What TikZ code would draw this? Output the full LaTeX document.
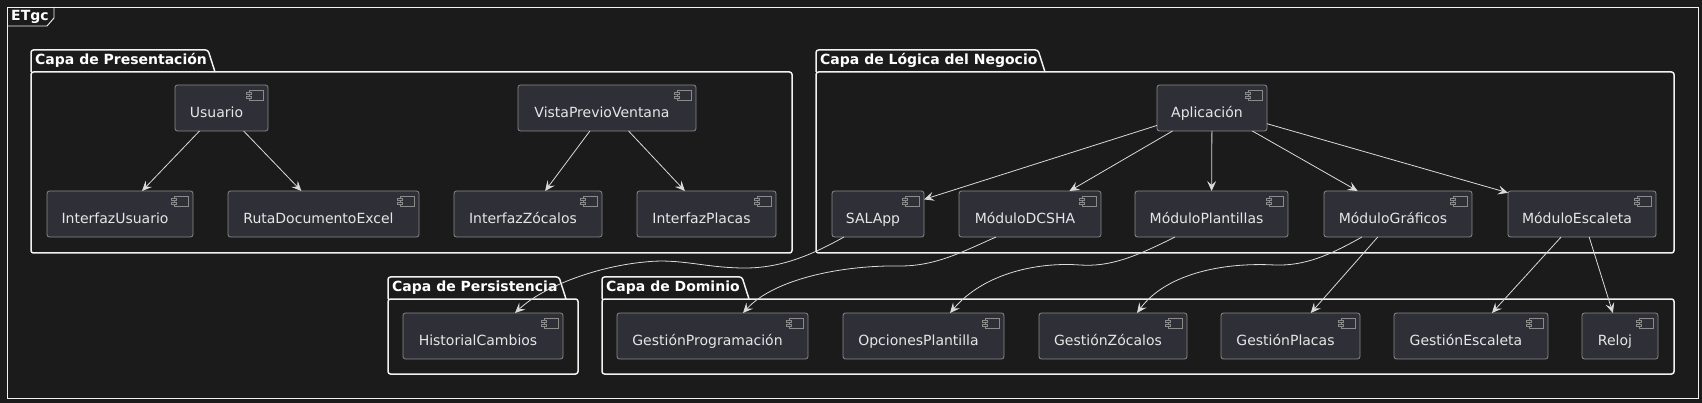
\documentclass[tikz,border=0pt]{standalone}
\usepackage{fontspec}
\setmainfont{DejaVu Sans}
\usetikzlibrary{arrows.meta,calc}
\definecolor{bg}{HTML}{1B1B1B}
\definecolor{compfill}{HTML}{2F2F38}
\definecolor{compline}{HTML}{8A8A8A}
\definecolor{txt}{HTML}{E6E6E6}
\definecolor{lines}{HTML}{F2F2F2}
\definecolor{arrc}{HTML}{DADADA}
\tikzset{
  comp/.style={draw=compline, fill=compfill, line width=0.8pt, rounded corners=2.5pt, inner sep=0pt, outer sep=0pt, anchor=north west},
  ctext/.style={text=txt, font=\fontsize{14}{16}\selectfont, inner sep=0pt, anchor=base},
  pkgline/.style={draw=lines, line width=1.5pt, rounded corners=2.5pt},
  frameline/.style={draw=lines, line width=0.9pt},
  ptitle/.style={text=white, font=\bfseries\fontsize{14}{16}\selectfont, inner sep=0pt, anchor=base west},
  arr/.style={draw=arrc, line width=0.8pt, -{Stealth[length=10pt,width=9pt,inset=4pt]}},
  icon/.style={draw=compline, fill=compfill, line width=0.7pt},
}
\newcommand\mycomp[5]{%
  \node[comp, minimum width={(#3)-(#2)}, minimum height=46pt] (#1) at (#2,#4) {};
  \draw[icon] ($(#1.north east)+(-19pt,-5pt)$) rectangle ++(14pt,-10pt);
  \draw[icon] ($(#1.north east)+(-22pt,-7.5pt)$) rectangle ++(5pt,-2pt);
  \draw[icon] ($(#1.north east)+(-22pt,-11.5pt)$) rectangle ++(5pt,-2pt);
  \node[ctext] (#1-t) at ($(#1.north)+(-5pt,-32.5pt)$) {#5};
}
\newcommand\mypkg[8]{% name, left, right, tabtop, bodytop, bottom, tabright, title
  \draw[pkgline] (#2,#5) -- (#2,#4) -- (#7,#4) -- ({#7+7},#5);
  \draw[pkgline] (#2,#5) rectangle (#3,#6);
  \node[ptitle] (#1) at ({#2+4},{#4+14.5}) {#8};
}
\begin{document}
\begin{tikzpicture}[x=1pt,y=-1pt]
\fill[bg] (0,0) rectangle (1702,403);
\useasboundingbox (0,0) rectangle (1702,403);
% outer frame
\draw[frameline] (7,7) rectangle (1698,398);
\draw[frameline] (7,26) -- (47,26) -- (54,18) -- (54,7);
\node[ptitle] (etgc) at (11,21) {ETgc};
% packages
\mypkg{pres}{31}{792}{50}{72}{253}{208}{Capa de Presentación}
\mypkg{logica}{816}{1674}{50}{72}{253}{1038}{Capa de Lógica del Negocio}
\mypkg{pers}{388}{578}{277}{299}{374}{559}{Capa de Persistencia}
\mypkg{dom}{602}{1674}{277}{299}{374}{742}{Capa de Dominio}
% components row 1
\mycomp{u}{175}{268}{85}{Usuario}
\mycomp{vp}{518}{696}{85}{VistaPrevioVentana}
\mycomp{app}{1157}{1267}{85}{Aplicación}
% row 2
\mycomp{iu}{47}{193}{191}{InterfazUsuario}
\mycomp{rde}{228}{419}{191}{RutaDocumentoExcel}
\mycomp{iz}{454}{602}{191}{InterfazZócalos}
\mycomp{ip}{637}{776}{191}{InterfazPlacas}
\mycomp{sal}{832}{924}{191}{SALApp}
\mycomp{dcsha}{959}{1101}{191}{MóduloDCSHA}
\mycomp{mpl}{1135}{1288}{191}{MóduloPlantillas}
\mycomp{mgr}{1324}{1472}{191}{MóduloGráficos}
\mycomp{mesc}{1508}{1656}{191}{MóduloEscaleta}
% row 3
\mycomp{hc}{403}{563}{313}{HistorialCambios}
\mycomp{gp}{617}{808}{313}{GestiónProgramación}
\mycomp{op}{843}{1004}{313}{OpcionesPlantilla}
\mycomp{gz}{1039}{1187}{313}{GestiónZócalos}
\mycomp{gpl}{1221}{1360}{313}{GestiónPlacas}
\mycomp{ge}{1394}{1548}{313}{GestiónEscaleta}
\mycomp{rel}{1582}{1658}{313}{Reloj}
% straight connectors
\draw[arr] (u) -- (iu);
\draw[arr] (u) -- (rde);
\draw[arr] (vp) -- (iz);
\draw[arr] (vp) -- (ip);
\draw[arr] (app) -- (sal);
\draw[arr] (app) -- (dcsha);
\draw[arr] (app) -- (mpl);
\draw[arr] (app) -- (mgr);
\draw[arr] (app) -- (mesc);
\draw[arr] (mgr) -- (gpl);
\draw[arr] (mesc) -- (ge);
\draw[arr] (mesc) -- (rel);
% curved connectors
\draw[arr] ([xshift=-34pt]sal.south) .. controls (810,256) and (780,268) .. (745,268)
  .. controls (705,268) and (680,258) .. (645,262)
  .. controls (600,266) and (545,285) .. ([xshift=32pt]hc.north);
\draw[arr] ([xshift=-34pt]dcsha.south) .. controls (960,253) and (935,266) .. (900,266)
  .. controls (845,265) and (775,278) .. ([xshift=30.5pt]gp.north);
\draw[arr] ([xshift=-36.5pt]mpl.south) .. controls (1135,257) and (1110,267) .. (1080,265)
  .. controls (1040,262) and (985,272) .. ([xshift=26.5pt]op.north);
\draw[arr] ([xshift=-36pt]mgr.south) .. controls (1330,255) and (1305,266) .. (1275,265)
  .. controls (1220,262) and (1165,275) .. ([xshift=24pt]gz.north);
\end{tikzpicture}
\end{document}
